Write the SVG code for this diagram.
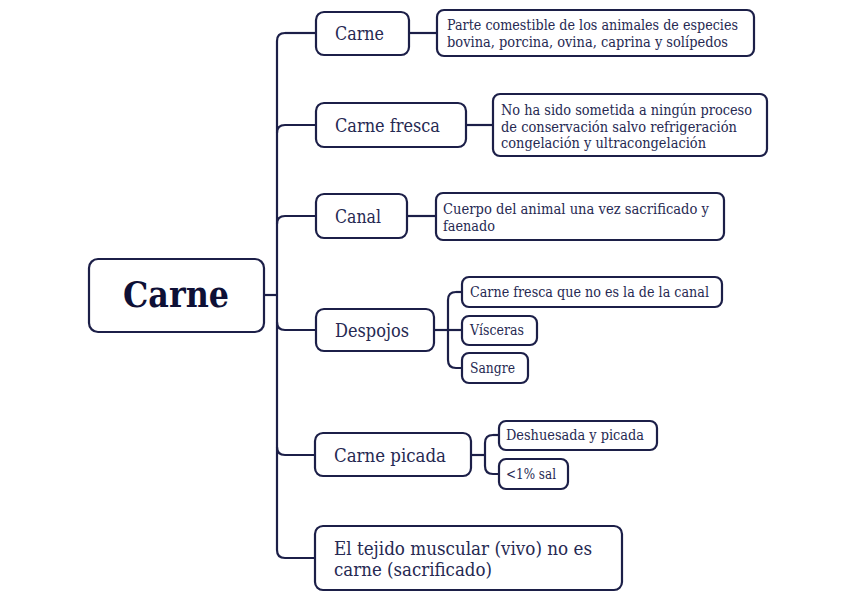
<svg xmlns="http://www.w3.org/2000/svg" width="848" height="599" viewBox="0 0 848 599">
<style>
.box{fill:#ffffff;stroke:#1c1f48;stroke-width:2.2}
.ln{fill:none;stroke:#1c1f48;stroke-width:2.2}
text{font-family:"DejaVu Serif","Liberation Serif",serif;fill:#262952}
.root{font-size:35px;font-weight:bold;fill:#0e1036}
.br{font-size:18px}
.dt{font-size:14px}
</style>
<rect width="848" height="599" fill="#ffffff"/>
<g id="connectors">
<path class="ln" d="M264,295 H277"/>
<path class="ln" d="M285,33 Q277,33 277,41 V550 Q277,558 285,558 H316"/>
<path class="ln" d="M285,33 H316"/>
<path class="ln" d="M277,133 Q277,125 285,125 H316"/>
<path class="ln" d="M277,224 Q277,216 285,216 H316"/>
<path class="ln" d="M277,322 Q277,330 285,330 H316"/>
<path class="ln" d="M277,447 Q277,455 285,455 H316"/>
<path class="ln" d="M409,33 H437"/>
<path class="ln" d="M466,125 H493"/>
<path class="ln" d="M407,216 H436"/>
<path class="ln" d="M434,330 H462"/>
<path class="ln" d="M456,292 Q448,292 448,300 V360 Q448,368 456,368 H462"/>
<path class="ln" d="M456,292 H462"/>
<path class="ln" d="M471,455 H485"/>
<path class="ln" d="M493,435 Q485,435 485,443 V466 Q485,474 493,474 H499"/>
<path class="ln" d="M493,435 H499"/>
</g>
<g id="root">
<rect class="box" x="89" y="259" width="175" height="73" rx="9"/>
<text class="root" x="123" y="307" textLength="106" lengthAdjust="spacingAndGlyphs">Carne</text>
</g>
<g id="n-carne">
<rect class="box" x="316" y="12" width="93" height="43" rx="8"/>
<text class="br" x="335" y="40" textLength="49" lengthAdjust="spacingAndGlyphs">Carne</text>
</g>
<g id="n-carne-fresca">
<rect class="box" x="316" y="103" width="150" height="44" rx="8"/>
<text class="br" x="335" y="132" textLength="105" lengthAdjust="spacingAndGlyphs">Carne fresca</text>
</g>
<g id="n-canal">
<rect class="box" x="316" y="194" width="91" height="44" rx="8"/>
<text class="br" x="335" y="223" textLength="46" lengthAdjust="spacingAndGlyphs">Canal</text>
</g>
<g id="n-despojos">
<rect class="box" x="316" y="309" width="118" height="42" rx="8"/>
<text class="br" x="335" y="337" textLength="74" lengthAdjust="spacingAndGlyphs">Despojos</text>
</g>
<g id="n-carne-picada">
<rect class="box" x="315" y="433" width="156" height="43" rx="8"/>
<text class="br" x="334" y="462" textLength="112" lengthAdjust="spacingAndGlyphs">Carne picada</text>
</g>
<g id="n-tejido">
<rect class="box" x="315" y="526" width="307" height="64" rx="8"/>
<text class="br" x="334" y="555" textLength="258" lengthAdjust="spacingAndGlyphs">El tejido muscular (vivo) no es</text>
<text class="br" x="334" y="576" textLength="158" lengthAdjust="spacingAndGlyphs">carne (sacrificado)</text>
</g>
<g id="d-carne">
<rect class="box" x="437" y="10" width="317" height="46" rx="7"/>
<text class="dt" x="447" y="30" textLength="291" lengthAdjust="spacingAndGlyphs">Parte comestible de los animales de especies</text>
<text class="dt" x="447" y="47" textLength="281" lengthAdjust="spacingAndGlyphs">bovina, porcina, ovina, caprina y solípedos</text>
</g>
<g id="d-carne-fresca">
<rect class="box" x="493" y="94" width="274" height="62" rx="7"/>
<text class="dt" x="501" y="115" textLength="251" lengthAdjust="spacingAndGlyphs">No ha sido sometida a ningún proceso</text>
<text class="dt" x="501" y="132" textLength="236" lengthAdjust="spacingAndGlyphs">de conservación salvo refrigeración</text>
<text class="dt" x="501" y="148" textLength="205" lengthAdjust="spacingAndGlyphs">congelación y ultracongelación</text>
</g>
<g id="d-canal">
<rect class="box" x="436" y="193" width="288" height="47" rx="7"/>
<text class="dt" x="443" y="214" textLength="266" lengthAdjust="spacingAndGlyphs">Cuerpo del animal una vez sacrificado y</text>
<text class="dt" x="443" y="231" textLength="52" lengthAdjust="spacingAndGlyphs">faenado</text>
</g>
<g id="d-despojos-1">
<rect class="box" x="462" y="277" width="260" height="30" rx="7"/>
<text class="dt" x="470" y="297" textLength="239" lengthAdjust="spacingAndGlyphs">Carne fresca que no es la de la canal</text>
</g>
<g id="d-despojos-2">
<rect class="box" x="462" y="316" width="75" height="29" rx="7"/>
<text class="dt" x="470" y="335" textLength="54" lengthAdjust="spacingAndGlyphs">Vísceras</text>
</g>
<g id="d-despojos-3">
<rect class="box" x="462" y="353" width="66" height="30" rx="7"/>
<text class="dt" x="470" y="373" textLength="45" lengthAdjust="spacingAndGlyphs">Sangre</text>
</g>
<g id="d-picada-1">
<rect class="box" x="499" y="421" width="158" height="29" rx="7"/>
<text class="dt" x="506" y="440" textLength="138" lengthAdjust="spacingAndGlyphs">Deshuesada y picada</text>
</g>
<g id="d-picada-2">
<rect class="box" x="499" y="459" width="69" height="30" rx="7"/>
<text class="dt" x="506" y="479" textLength="50" lengthAdjust="spacingAndGlyphs">&lt;1% sal</text>
</g>
</svg>
